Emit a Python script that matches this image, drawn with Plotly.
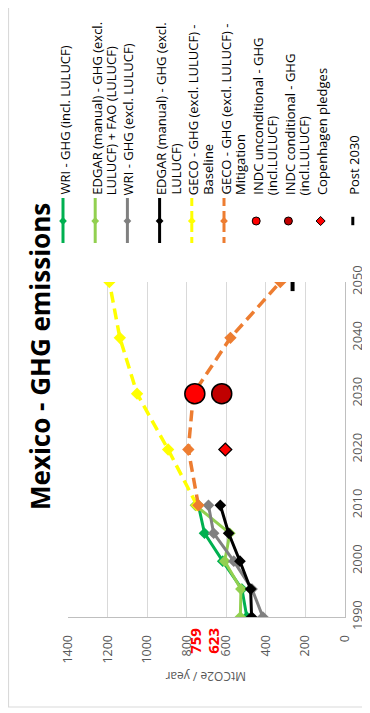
import plotly.graph_objects as go

W, H = 370, 713
PAD = 8  # the page body keeps its default 8px margin
FW, FH = W - PAD, H - PAD

# historical series (MtCO2e / year)
years_hist = [1990, 1995, 2000, 2005, 2010]
wri_incl = [496, 521, 618, 710, 741]
edgar_fao = [529, 526, 608, 582, 756]
wri_excl = [415, 470, 562, 664, 690]
edgar_excl = [472, 477, 531, 588, 630]

# projections
years_geco = [2010, 2020, 2030, 2040, 2050]
geco_base = [748, 894, 1051, 1138, 1191]
geco_mit = [741, 792, 766, 579, 327]

indc_year = [2030]
indc_uncond = [759]
indc_cond = [623]
copenhagen_year = [2020]
copenhagen = [605]
post2030_year = [2050]
post2030 = [265]

value_ticks = [0, 200, 400, 600, 800, 1000, 1200, 1400]
year_ticks = [1990, 2000, 2010, 2020, 2030, 2040, 2050]

legend_names = [
    ["WRI - GHG (incl. LULUCF)"],
    ["EDGAR (manual) - GHG (excl.", "LULUCF) + FAO (LULUCF)"],
    ["WRI - GHG (excl. LULUCF)"],
    ["EDGAR (manual) - GHG (excl.", "LULUCF)"],
    ["GECO - GHG (excl. LULUCF) -", "Baseline"],
    ["GECO - GHG (excl. LULUCF) -", "Mitigation"],
    ["INDC unconditional - GHG", "(incl.LULUCF)"],
    ["INDC conditional - GHG", "(incl.LULUCF)"],
    ["Copenhagen pledges"],
    ["Post 2030"],
]

GREEN = "#00B050"
LGREEN = "#92D050"
GRAY = "#808080"
BLACK = "#000000"
YELLOW = "#FFFF00"
ORANGE = "#ED7D31"
RED = "#FF0000"
DRED = "#C00000"
TXT = "#595959"
FONT = "Open Sans"
DASH = "11px,6px"


def px(x):
    # window pixel -> paper fraction
    return (x - PAD) / FW


def py(y):
    return 1 - (y - PAD) / FH


fig = go.Figure()

# chart is drawn turned a quarter turn: values run along x (reversed), years up the y axis
hist = [
    (wri_incl, GREEN),
    (edgar_fao, LGREEN),
    (wri_excl, GRAY),
    (edgar_excl, BLACK),
]
for vals, col in hist:
    fig.add_trace(go.Scatter(
        x=vals, y=years_hist, mode="lines+markers",
        line=dict(color=col, width=3),
        marker=dict(symbol="diamond", size=9, color=col),
        showlegend=False,
    ))

for vals, col in [(geco_base, YELLOW), (geco_mit, ORANGE)]:
    fig.add_trace(go.Scatter(
        x=vals, y=years_geco, mode="lines+markers",
        line=dict(color=col, width=3.5, dash=DASH),
        marker=dict(symbol="diamond", size=9.5, color=col),
        showlegend=False,
    ))

for vals, col in [(indc_uncond, RED), (indc_cond, DRED)]:
    fig.add_trace(go.Scatter(
        x=vals, y=indc_year, mode="markers",
        marker=dict(symbol="circle", size=20, color=col, line=dict(color=BLACK, width=1.5)),
        showlegend=False,
    ))

fig.add_trace(go.Scatter(
    x=copenhagen, y=copenhagen_year, mode="markers",
    marker=dict(symbol="diamond", size=10, color=RED, line=dict(color=BLACK, width=1.2)),
    showlegend=False,
))
fig.add_trace(go.Scatter(
    x=post2030, y=post2030_year, mode="markers",
    marker=dict(symbol="line-ns", size=13, line=dict(color=BLACK, width=4)),
    showlegend=False,
))

# hand-made legend, turned like the chart
key_x0, key_step = 63, 32.2
key_styles = [
    (GREEN, "solid", "diamond", GREEN, 6),
    (LGREEN, "solid", "diamond", LGREEN, 6),
    (GRAY, "solid", "diamond", GRAY, 6),
    (BLACK, "solid", "diamond", BLACK, 6),
    (YELLOW, "8px,5px", "diamond", YELLOW, 6),
    (ORANGE, "8px,5px", "diamond", ORANGE, 6),
    (None, None, "circle", RED, 8),
    (None, None, "circle", DRED, 8),
    (None, None, "diamond", RED, 7),
    (None, None, "line-ns", BLACK, 6),
]
for i, (lc, dash, sym, mc, ms) in enumerate(key_styles):
    kx = key_x0 + i * key_step
    if lc:
        fig.add_trace(go.Scatter(
            x=[kx, kx], y=[198, 243], mode="lines",
            line=dict(color=lc, width=3, dash=dash),
            xaxis="x2", yaxis="y2", showlegend=False, hoverinfo="skip",
        ))
    mk = dict(symbol=sym, size=ms, color=mc)
    if sym == "line-ns":
        mk["line"] = dict(color=BLACK, width=3)
    elif lc is None:
        mk["line"] = dict(color=BLACK, width=1)
    fig.add_trace(go.Scatter(
        x=[kx], y=[221], mode="markers", marker=mk,
        xaxis="x2", yaxis="y2", showlegend=False, hoverinfo="skip",
    ))
    for j, line in enumerate(legend_names[i]):
        fig.add_annotation(
            text=line, textangle=-90, showarrow=False,
            xref="paper", yref="paper", x=px(kx + 1 + j * 14.5), y=py(197),
            xanchor="center", yanchor="bottom",
            font=dict(family=FONT, size=13, color=BLACK),
        )

# title
fig.add_annotation(
    text="<b>Mexico - GHG emissions</b>", textangle=-90, showarrow=False,
    xref="paper", yref="paper", x=px(40), y=py(357),
    xanchor="center", yanchor="middle",
    font=dict(family=FONT, size=26, color=BLACK),
)

# value axis title (upside down in the turned chart)
fig.add_annotation(
    text="MtCO2e / year", textangle=180, showarrow=False,
    xref="paper", yref="paper", x=px(206), y=py(677),
    xanchor="center", yanchor="middle",
    font=dict(family=FONT, size=12, color=TXT),
)

# INDC values written on the axis
for v, shift in [(indc_uncond[0], 0), (indc_cond[0], -9)]:
    fig.add_annotation(
        text="<b>%d</b>" % v, textangle=-90, showarrow=False,
        xref="x", yref="paper", x=v, y=py(641), xshift=shift,
        xanchor="center", yanchor="middle",
        font=dict(family=FONT, size=15, color=RED),
    )

# outer frame
fig.add_shape(
    type="rect", xref="paper", yref="paper",
    x0=px(8.5), x1=px(380), y0=py(707), y1=py(-10),
    line=dict(color="#D9D9D9", width=1.2), layer="below",
)

fig.update_layout(
    width=FW, height=FH,
    margin=dict(l=0, r=0, t=0, b=0),
    paper_bgcolor="#FFFFFF",
    plot_bgcolor="rgba(0,0,0,0)",
    showlegend=False,
    xaxis=dict(
        domain=[px(68), px(345)],
        range=[1400, 0], autorange=False,
        tickvals=value_ticks, tickangle=-90,
        tickfont=dict(family=FONT, size=12.5, color=TXT),
        showgrid=True, gridcolor="#D9D9D9", gridwidth=1,
        zeroline=False, showline=True, linecolor="#BFBFBF", linewidth=1,
        ticks="", ticklabelstandoff=12, automargin=False,
    ),
    yaxis=dict(
        domain=[py(617), py(282)],
        range=[1990, 2050], autorange=False,
        tickvals=year_ticks, tickangle=-90, side="right",
        tickfont=dict(family=FONT, size=13, color=TXT),
        showgrid=False, zeroline=False,
        showline=True, linecolor="#BFBFBF", linewidth=1,
        ticks="", ticklabelstandoff=0, automargin=False,
    ),
    xaxis2=dict(domain=[0, 1], range=[PAD, W], visible=False, fixedrange=True,
                anchor="y2"),
    yaxis2=dict(domain=[0, 1], range=[H, PAD], visible=False, fixedrange=True,
                anchor="x2"),
)

fig.write_html("out.html")
